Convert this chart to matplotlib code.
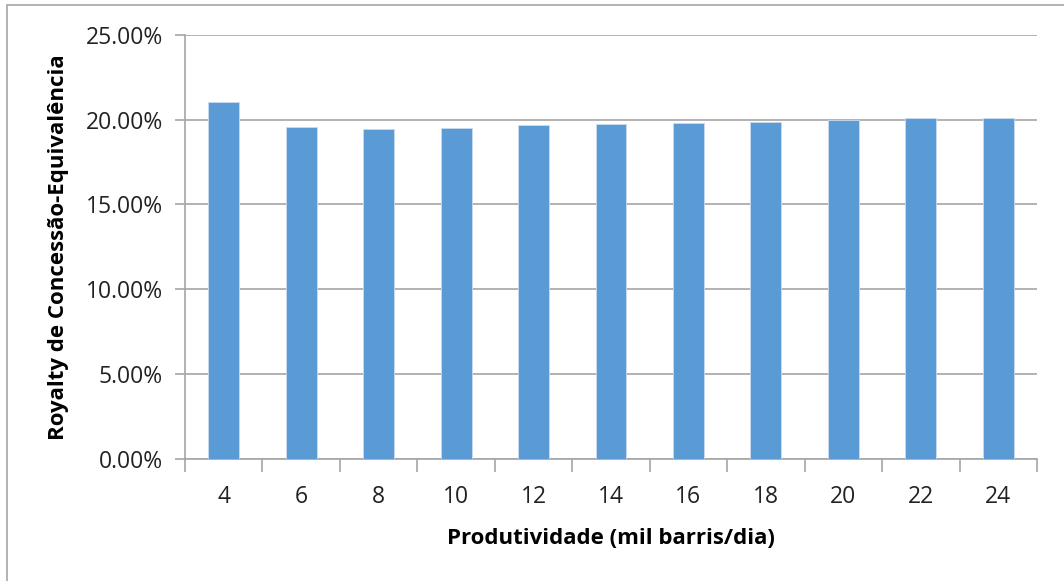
import numpy as np
import matplotlib.pyplot as plt
from matplotlib.ticker import FuncFormatter
from matplotlib.patches import Rectangle

# Data
produtividade = ["4", "6", "8", "10", "12", "14", "16", "18", "20", "22", "24"]
royalty = [21.03, 19.59, 19.43, 19.51, 19.69, 19.75, 19.82, 19.88, 20.00, 20.12, 20.12]

plt.rcParams['font.family'] = ['Open Sans', 'DejaVu Sans']

fig = plt.figure(figsize=(10.64, 5.81), dpi=100)
ax = fig.add_axes([185 / 1064, 1 - 458.5 / 581, (1037 - 185) / 1064, (458.5 - 35) / 581])

# outer chart frame (only top and left edges fall inside the image)
fig.patches.append(Rectangle((7 / 1064, -0.05), 1.2, 1 - 5 / 581 + 0.05,
                             transform=fig.transFigure, fill=False,
                             edgecolor='#a6a6a6', linewidth=1.2))

x = np.arange(len(produtividade))
ax.bar(x, royalty, width=0.4, color='#5b9bd5', edgecolor='#c9dcf0', linewidth=0.6, zorder=3)

ax.set_xlim(-0.5, len(produtividade) - 0.5)
ax.set_ylim(0, 25)
ax.set_yticks(np.arange(0, 25.01, 5))
ax.yaxis.set_major_formatter(FuncFormatter(lambda v, p: f"{v:.2f}%"))
ax.grid(axis='y', color='#a6a6a6', linewidth=1.2, zorder=0)

ax.set_xticks(x)
ax.set_xticklabels(produtividade)
ax.set_xticks(np.arange(-0.5, len(produtividade)), minor=True)
ax.tick_params(axis='x', which='major', length=0, pad=19, labelsize=16.5, colors='#222222')
ax.tick_params(axis='x', which='minor', length=9, width=1.2, color='#a6a6a6')
ax.tick_params(axis='y', length=7, width=1.2, color='#a6a6a6', labelsize=16.5, pad=9,
               labelcolor='#222222')

for s in ['top', 'right']:
    ax.spines[s].set_visible(False)
for s in ['left', 'bottom']:
    ax.spines[s].set_color('#a6a6a6')
    ax.spines[s].set_linewidth(1.2)

ax.set_xlabel("Produtividade (mil barris/dia)", fontsize=16, fontweight='bold', labelpad=14)
ax.set_ylabel("Royalty de Concessão-Equivalência", fontsize=16, fontweight='bold', labelpad=12)

fig.savefig("out.png", dpi=100)
